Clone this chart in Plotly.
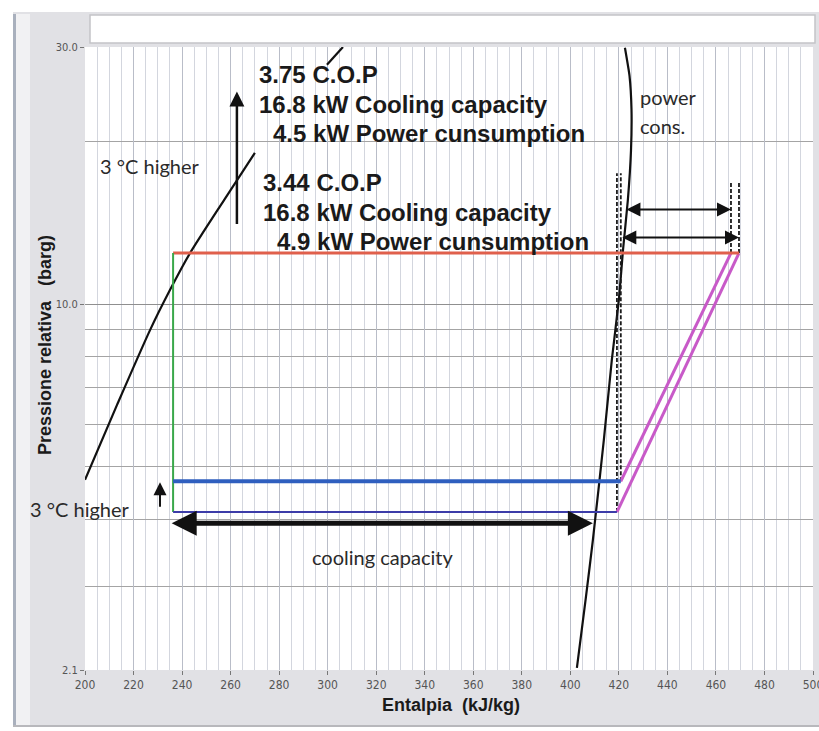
import math
import plotly.graph_objects as go

# ---------------- data ----------------
h_ticks = [200, 220, 240, 260, 280, 300, 320, 340, 360, 380, 400, 420, 440, 460, 480, 500]
p_ticks = [2.1, 10.0, 30.0]
p_tick_labels = ["2.1", "10.0", "30.0"]
p_grid = [3, 4, 5, 6, 7, 8, 9, 20]

# saturated liquid line (gap where the text covers it)
sat_liq_h = [200.0, 213.2, 226.8, 235.0, 243.3, 257.3, 270.0, None, 299.7, 306.3]
sat_liq_p = [4.73, 6.51, 8.96, 10.63, 12.45, 15.61, 19.1, None, 27.8, 30.0]

# saturated vapour line
sat_vap_h = [402.7, 406.4, 409.3, 413.8, 417.1, 420.0, 421.7, 423.7, 425.0, 425.2, 424.4, 422.5]
sat_vap_p = [2.12, 2.86, 3.66, 5.60, 7.89, 10.2, 12.6, 15.6, 19.3, 23.0, 26.5, 29.9]

# cycle
h_liquid = 236.3
p_cond = 12.45
p_evap_low = 4.12
p_evap_high = 4.70
h_evap_out_low = 419.2
h_evap_out_high = 420.8
h_dis_low = 469.5
h_dis_high = 466.2
p_dash_left_top = 17.5
p_dash_right_top = 16.9
p_arrow_power_high = 15.0
h_arrow_power_high_start = 422.5
p_arrow_power_low = 13.3
p_cool_arrow = 3.93
h_cool_arrow_end = 409.3
h_up_arrow = 262.6
p_up_arrow = [14.0, 24.8]
h_small_arrow = 230.9
p_small_arrow = [4.19, 4.68]

# ---------------- layout constants ----------------
W, H = 819, 731
L, R, T, B = 85, 6, 47, 61
PW, PH = W - L - R, H - T - B


def px(x):
    return (x - L) / PW


def py(y):
    return (H - B - y) / PH


fig = go.Figure()

fig.add_trace(go.Scatter(x=sat_liq_h, y=sat_liq_p, mode="lines",
                         line=dict(color="#111111", width=2.2, shape="spline", smoothing=0.7),
                         connectgaps=False, hoverinfo="skip"))
fig.add_trace(go.Scatter(x=sat_vap_h, y=sat_vap_p, mode="lines",
                         line=dict(color="#111111", width=2.2, shape="spline", smoothing=0.5),
                         hoverinfo="skip"))

dash = "4px,2px"
dash_line = dict(color="#1a1a1a", width=1.8, dash=dash)
# dashed verticals
fig.add_trace(go.Scatter(x=[h_evap_out_low, h_evap_out_low], y=[p_evap_low, p_dash_left_top], mode="lines",
                         line=dash_line, hoverinfo="skip"))
fig.add_trace(go.Scatter(x=[h_evap_out_high, h_evap_out_high], y=[p_evap_high, p_dash_left_top], mode="lines",
                         line=dash_line, hoverinfo="skip"))
fig.add_trace(go.Scatter(x=[h_dis_high, h_dis_high], y=[p_cond, p_dash_right_top], mode="lines",
                         line=dash_line, hoverinfo="skip"))
fig.add_trace(go.Scatter(x=[h_dis_low, h_dis_low], y=[p_cond, p_dash_right_top], mode="lines",
                         line=dash_line, hoverinfo="skip"))

# compression lines (magenta)
fig.add_trace(go.Scatter(x=[h_evap_out_low, h_dis_low], y=[p_evap_low, p_cond], mode="lines",
                         line=dict(color="#c85ac8", width=3), hoverinfo="skip"))
fig.add_trace(go.Scatter(x=[h_evap_out_high, h_dis_high], y=[p_evap_high, p_cond], mode="lines",
                         line=dict(color="#c85ac8", width=3), hoverinfo="skip"))

# condensing line (red)
fig.add_trace(go.Scatter(x=[h_liquid, h_dis_low], y=[p_cond, p_cond], mode="lines",
                         line=dict(color="#e0604c", width=3), hoverinfo="skip"))
# expansion (green)
fig.add_trace(go.Scatter(x=[h_liquid, h_liquid], y=[p_evap_low, p_cond], mode="lines",
                         line=dict(color="#3aa84a", width=2), hoverinfo="skip"))
# evaporation lines
fig.add_trace(go.Scatter(x=[h_liquid, h_evap_out_high], y=[p_evap_high, p_evap_high], mode="lines",
                         line=dict(color="#2f5fbf", width=4), hoverinfo="skip"))
fig.add_trace(go.Scatter(x=[h_liquid, h_evap_out_low], y=[p_evap_low, p_evap_low], mode="lines",
                         line=dict(color="#3c3ca8", width=2), hoverinfo="skip"))

lg = math.log10
annotations = []


def arrow(x0, y0, x1, y1, width, size, both=False, color="#111111"):
    annotations.append(dict(x=x1, y=lg(y1), ax=x0, ay=lg(y0), xref="x", yref="y", axref="x", ayref="y",
                            text="", showarrow=True, arrowhead=2, startarrowhead=2,
                            arrowside="end+start" if both else "end",
                            arrowwidth=width, arrowsize=size, startarrowsize=size,
                            arrowcolor=color, standoff=0, startstandoff=0))


arrow(h_liquid - 1.2, p_cool_arrow, h_cool_arrow_end, p_cool_arrow, 5, 1.0, both=True)
arrow(h_arrow_power_high_start, p_arrow_power_high, h_dis_high, p_arrow_power_high, 2, 1.4, both=True)
arrow(h_evap_out_high, p_arrow_power_low, h_dis_low, p_arrow_power_low, 2, 1.4, both=True)
arrow(h_up_arrow, p_up_arrow[0], h_up_arrow, p_up_arrow[1], 2.5, 1.2)
arrow(h_small_arrow, p_small_arrow[0], h_small_arrow, p_small_arrow[1], 2, 1.3)

bold_font = dict(family="Liberation Sans, Arial, sans-serif", size=24, color="#1a1a1a")
hand_font = dict(family="Lato, Open Sans, sans-serif", size=20, color="#2a2a2a")


def text(x, y, s, font, anchor="left"):
    annotations.append(dict(x=px(x), y=py(y), xref="paper", yref="paper", text=s, showarrow=False,
                            xanchor=anchor, yanchor="middle", font=font))


text(257, 74, "<b>3.75 C.O.P</b>", bold_font)
text(257, 104, "<b>16.8 kW Cooling capacity</b>", bold_font)
text(271, 134, "<b>4.5 kW Power cunsumption</b>", bold_font)
text(261, 182, "<b>3.44 C.O.P</b>", bold_font)
text(261, 212, "<b>16.8 kW Cooling capacity</b>", bold_font)
text(275, 241, "<b>4.9 kW Power cunsumption</b>", bold_font)

text(98, 166, "3 °C higher", hand_font)
text(28, 509, "3 °C higher", hand_font)
text(638, 97, "power", hand_font)
text(638, 126, "cons.", hand_font)
text(382, 557, "cooling capacity", hand_font, anchor="center")

axis_font = "Liberation Sans Narrow, DejaVu Sans Condensed, Roboto Condensed, Liberation Sans, sans-serif"
title_font = dict(family="Liberation Sans, Arial, sans-serif", size=18, color="#1a1a1a")
annotations.append(dict(x=px(451), y=py(705), xref="paper", yref="paper", text="<b>Entalpia  (kJ/kg)</b>",
                        showarrow=False, xanchor="center", yanchor="middle", font=title_font))
annotations.append(dict(x=px(45), y=py(345), xref="paper", yref="paper",
                        text="<b>Pressione relativa   (barg)</b>", textangle=-90,
                        showarrow=False, xanchor="center", yanchor="middle", font=title_font))

shapes = [
    # white outer strips
    dict(type="rect", xref="paper", yref="paper", x0=px(0), x1=px(13), y0=py(H), y1=py(0),
         fillcolor="white", line=dict(width=0), layer="below"),
    dict(type="rect", xref="paper", yref="paper", x0=px(0), x1=px(W), y0=py(12), y1=py(0),
         fillcolor="white", line=dict(width=0), layer="below"),
    dict(type="rect", xref="paper", yref="paper", x0=px(0), x1=px(W), y0=py(H), y1=py(727),
         fillcolor="white", line=dict(width=0), layer="below"),
    # frame line on the left
    dict(type="rect", xref="paper", yref="paper", x0=px(13), x1=px(16), y0=py(727), y1=py(14),
         fillcolor="#a9b0bd", line=dict(width=0), layer="below"),
    dict(type="rect", xref="paper", yref="paper", x0=px(16), x1=px(30), y0=py(727), y1=py(14),
         fillcolor="#f1f1f3", line=dict(width=0), layer="below"),
    # bottom frame line
    dict(type="rect", xref="paper", yref="paper", x0=px(13), x1=px(W), y0=py(727), y1=py(725),
         fillcolor="#b8b8bc", line=dict(width=0), layer="below"),
    # top white box
    dict(type="rect", xref="paper", yref="paper", x0=px(90), x1=px(815), y0=py(43), y1=py(15),
         fillcolor="white", line=dict(color="#c4c4c8", width=1.5), layer="below"),
]

fig.update_layout(
    width=W, height=H,
    margin=dict(l=L, r=R, t=T, b=B, pad=0, autoexpand=False),
    paper_bgcolor="#e1e1e5",
    plot_bgcolor="white",
    showlegend=False,
    annotations=annotations,
    shapes=shapes,
    xaxis=dict(range=[200, 500], tickvals=h_ticks, ticktext=[str(v) for v in h_ticks],
               showgrid=True, gridcolor="#b9bdc8", gridwidth=1,
               minor=dict(dtick=5, tick0=200, showgrid=True, gridcolor="#d3d6de", gridwidth=1),
               ticks="outside", ticklen=4, tickcolor="#777777", ticklabeloverflow="allow",
               automargin=False,
               tickfont=dict(family=axis_font, size=12, color="#555555"),
               zeroline=False, showline=False),
    yaxis=dict(type="log", range=[math.log10(2.1), math.log10(30)],
               tickvals=p_ticks, ticktext=p_tick_labels,
               showgrid=True, gridcolor="#8f8f8f", gridwidth=1,
               minor=dict(tickvals=p_grid, showgrid=True, gridcolor="#a4a4a4", gridwidth=1, ticks=""),
               ticks="outside", ticklen=4, tickcolor="#777777", automargin=False,
               tickfont=dict(family=axis_font, size=11, color="#555555"),
               zeroline=False, showline=False),
)

fig.write_html("out.html", config={"displayModeBar": False},
               post_script="document.body.style.margin='0';")
